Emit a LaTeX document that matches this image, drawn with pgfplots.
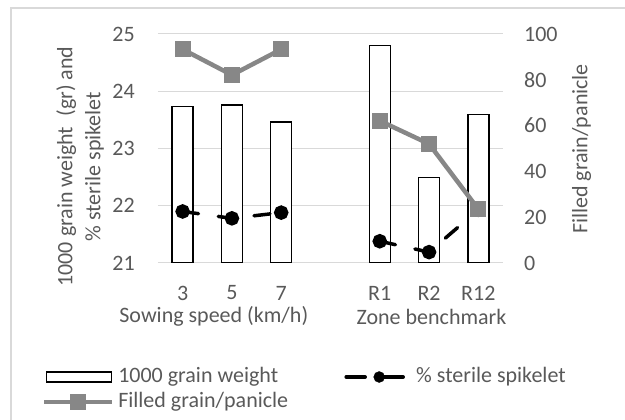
\documentclass[border=0pt]{standalone}
\usepackage{pgfplots}
\pgfplotsset{compat=1.18}
\usepackage{fontspec}
\setmainfont{Carlito}
\definecolor{txt}{HTML}{595959}
\definecolor{gridc}{HTML}{D9D9D9}
\definecolor{fg}{HTML}{878787}
\pgfplotsset{
  barleg/.style={legend image code/.code={
    \path[draw=none, fill=none] (0pt,-6pt) rectangle (72pt,6pt);
    \draw[black, line width=1.5pt, fill=white] (0pt,-5pt) rectangle (65pt,5pt);}},
  sterleg/.style={legend image code/.code={
    \path[draw=none, fill=none] (0pt,-6pt) rectangle (72pt,6pt);
    \draw[black, line width=3.5pt, line cap=round] (2pt,0pt) -- (21pt,0pt);
    \draw[black, line width=3.5pt, line cap=round] (40pt,0pt) -- (59pt,0pt);
    \draw[mark repeat=2, mark phase=2, ##1, draw=none]
      plot coordinates {(1pt,0pt) (35pt,0pt) (60pt,0pt)};}},
  filleg/.style={legend image code/.code={
    \path[draw=none, fill=none] (0pt,-6pt) rectangle (72pt,6pt);
    \draw[mark repeat=2, mark phase=2, ##1]
      plot coordinates {(-2pt,0pt) (32pt,0pt) (66pt,0pt)};}},
  common/.style={
  scale only axis, width=345pt, height=229pt, at={(158pt,157pt)}, anchor=south west,
  xmin=-0.5, xmax=6.5,
  axis line style={draw=none},
  major tick length=0pt,
  tick label style={text=txt, font=\fontsize{22}{26}\selectfont},
  /pgf/number format/assume math mode=true,
  label style={text=txt, font=\fontsize{22}{28}\selectfont},
  },
}
\begin{document}
\fontsize{22}{26}\selectfont
\begin{tikzpicture}
\draw[gridc, line width=1.5pt] (11pt,0pt) -- (11pt,412pt) -- (625pt,412pt);
\begin{axis}[common,
  ymin=21, ymax=25, ytick={21,22,23,24,25},
  xtick={0,1,2,4,5,6}, xticklabels={3,5,7,R1,R2,R12},
  ymajorgrids, grid style={gridc, line width=1pt},
  ytick pos=left, xtick pos=bottom,
  yticklabel style={anchor=east, inner sep=0pt, xshift=-23pt},
  xticklabel style={anchor=center, inner sep=0pt, yshift=-30pt},
  ylabel={1000 grain weight\ \ (gr) and\\\% sterile spikelet},
  ylabel style={align=center, at={(axis description cs:-0.226,0.421)}, anchor=center},
]
\addplot[ybar, bar width=21pt, bar shift=0pt, fill=white, draw=black, line width=1.5pt]
  coordinates {(0,23.73) (1,23.76) (2,23.46) (4,24.80) (5,22.49) (6,23.59)};
\addplot[black, line width=3.5pt, dash pattern=on 16pt off 20pt, line cap=round,
  mark=*, mark size=5.5pt, mark options={solid}]
  coordinates {(0,21.90) (1,21.78) (2,21.88)};
\addplot[black, line width=3.5pt, dash pattern=on 16pt off 20pt, line cap=round,
  mark=*, mark size=5.5pt, mark options={solid}]
  coordinates {(4,21.38) (5,21.19) (6,21.93)};
\end{axis}
\begin{axis}[common,
  ymin=0, ymax=100, ytick={0,20,40,60,80,100},
  xtick=\empty,
  ytick pos=right, yticklabel pos=right,
  yticklabel style={anchor=west, inner sep=0pt, xshift=21pt},
  ylabel={Filled grain/panicle},
  ylabel style={at={(axis description cs:1.228,0.498)}, anchor=center},
  legend columns=2,
  legend cell align=left,
  legend style={at={(axis description cs:-0.3362,-0.452)}, anchor=north west,
    draw=none, fill=none, inner sep=0pt, outer sep=0pt,
    font=\fontsize{22}{26}\selectfont, text=txt,
    nodes={inner sep=0pt, text height=16pt, text depth=5pt},
    row sep=4pt,
    /tikz/column 2/.style={column sep=56pt}},
]
\addlegendimage{barleg}
\addlegendentry{1000 grain weight}
\addlegendimage{black, mark=*, mark size=5.5pt, mark options={solid, fill=black}, sterleg}
\addlegendentry{\% sterile spikelet}
\addplot[fg, line width=4.5pt, mark=square*, mark size=5.8pt, filleg]
  coordinates {(0,93.3) (1,82.1) (2,93.3)};
\addlegendentry{Filled grain/panicle}
\addplot[fg, line width=4.5pt, mark=square*, mark size=5.8pt, forget plot]
  coordinates {(4,62.1) (5,52.0) (6,23.5)};
\end{axis}
\node[text=txt, anchor=center] at (213.8pt,103.3pt) {Sowing speed (km/h)};
\node[text=txt, anchor=center] at (431.5pt,103.3pt) {Zone benchmark};
\pgfresetboundingbox
\path[use as bounding box] (0pt,0pt) rectangle (625pt,420pt);
\end{tikzpicture}
\end{document}
